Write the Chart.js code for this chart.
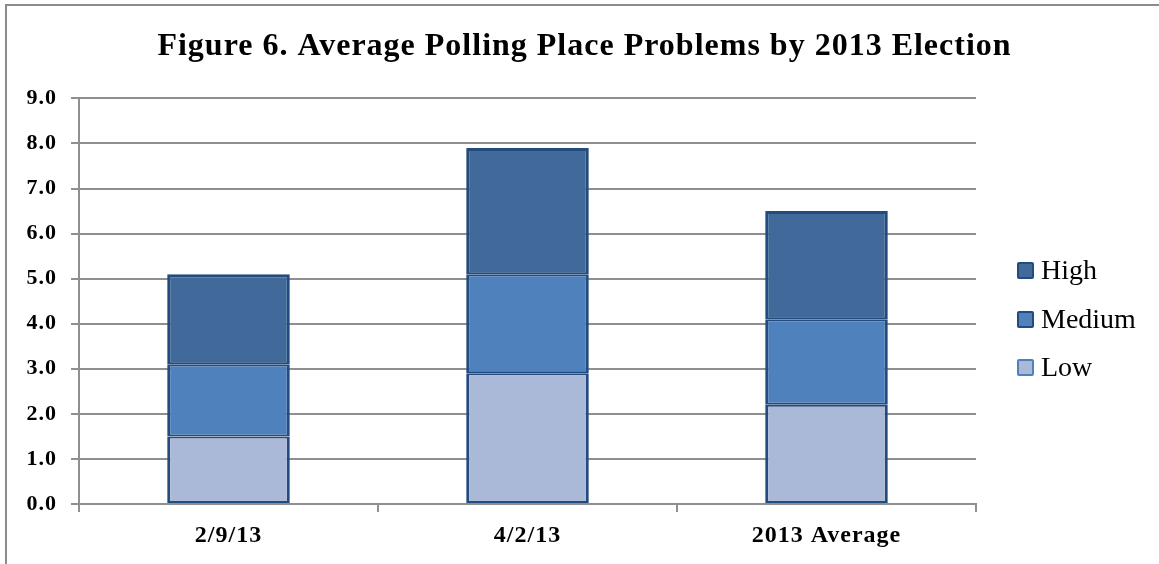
<!DOCTYPE html>
<html>
<head>
<meta charset="utf-8">
<script src="https://cdn.jsdelivr.net/npm/chart.js@4"></script>
<style>
  html, body { margin: 0; padding: 0; background: #fff; }
  #wrap { position: relative; width: 1159px; height: 564px; overflow: hidden; }
  #frame {
    position: absolute; left: 5px; top: 4px; right: -20px; bottom: -20px;
    border: 2px solid #8c8c8c;
  }
  canvas { position: absolute; left: 0; top: 0; }
  #legend { position: absolute; left: 1017px; top: 0; }
  .item {
    position: absolute; left: 0; height: 28px; white-space: nowrap;
    display: flex; align-items: center;
    font-family: 'Times New Roman', 'Liberation Serif', serif;
    font-size: 28px; line-height: 28px; color: #000;
  }
  .swatch {
    width: 13px; height: 13px; border: 2px solid; border-radius: 2px;
    margin-right: 7px;
  }
</style>
</head>
<body>
<div id="wrap">
  <div id="frame"></div>
  <canvas id="chart" width="1159" height="564"></canvas>
  <div id="legend"></div>
</div>
<script>
// Polling place problems per election, stacked by severity
const elections = ['2/9/13', '4/2/13', '2013 Average'];
const lowValues = [1.5, 2.9, 2.2];
const mediumValues = [1.6, 2.2, 1.9];
const highValues = [2.0, 2.8, 2.4];
const yTicks = [0, 1, 2, 3, 4, 5, 6, 7, 8, 9];

const serif = "'Times New Roman', 'Liberation Serif', serif";
const gridGray = '#8f8f8f';
const edgeBlue = '#234b7e';

// thin joins between stacked segments, heavier outer edges
const segmentBorder = { top: 2, bottom: 2, left: 3, right: 3 };

const datasets = [
  { label: 'Low', data: lowValues, backgroundColor: '#aab9d7', legendEdge: '#4f81bd' },
  { label: 'Medium', data: mediumValues, backgroundColor: '#4f81bd', legendEdge: edgeBlue },
  { label: 'High', data: highValues, backgroundColor: '#416a9b', legendEdge: edgeBlue }
].map(ds => Object.assign(ds, {
  borderColor: edgeBlue,
  borderWidth: ds.label === 'High' ? Object.assign({}, segmentBorder, { top: 3 }) : segmentBorder,
  borderSkipped: false,
  categoryPercentage: 1,
  barPercentage: 0.41
}));

// canvas text is set a little wider, like the printed figure.
// resizing the canvas resets context state, so apply before layout and drawing
const wideText = {
  id: 'wideText',
  beforeUpdate(chart) { chart.ctx.letterSpacing = '1px'; },
  beforeDraw(chart) { chart.ctx.letterSpacing = '1px'; }
};

const ctx = document.getElementById('chart').getContext('2d');

new Chart(ctx, {
  type: 'bar',
  data: { labels: elections, datasets: datasets },
  plugins: [wideText],
  options: {
    responsive: false,
    animation: false,
    layout: { padding: { left: 10, right: 0, top: 0, bottom: 0 } },
    plugins: {
      title: {
        display: true,
        text: 'Figure 6. Average Polling Place Problems by 2013 Election',
        color: '#000',
        font: { family: serif, size: 32, weight: 'bold' },
        padding: { top: 28, bottom: 32 }
      },
      legend: { display: false },
      tooltip: { enabled: false }
    },
    scales: {
      x: {
        stacked: true,
        afterFit: function(scale) { scale.height = 60; },
        grid: {
          display: true,
          offset: true,
          drawOnChartArea: false,
          drawTicks: true,
          tickLength: 8,
          color: gridGray,
          lineWidth: 2
        },
        border: { display: true, color: gridGray, width: 2 },
        ticks: {
          color: '#000',
          padding: 9,
          font: { family: serif, size: 24, weight: 'bold' }
        }
      },
      y: {
        stacked: true,
        min: 0,
        max: 9,
        afterFit: function(scale) { scale.width = 69; },
        afterBuildTicks: function(scale) {
          scale.ticks = yTicks.map(v => ({ value: v }));
        },
        grid: {
          color: gridGray,
          lineWidth: 2,
          drawTicks: true,
          tickLength: 8
        },
        border: { display: true, color: gridGray, width: 2 },
        ticks: {
          color: '#000',
          padding: 14,
          font: { family: serif, size: 22, weight: 'bold' },
          callback: function(value) { return value.toFixed(1); }
        }
      },
      // empty right-hand axis keeps room for the legend column
      legendSpace: {
        type: 'linear',
        position: 'right',
        afterFit: function(scale) { scale.width = 183; },
        grid: { display: false },
        border: { display: false },
        ticks: { display: false }
      }
    }
  }
});

// legend column, top to bottom High / Medium / Low
const legendEl = document.getElementById('legend');
const legendRows = [270, 319, 367];
datasets.slice().reverse().forEach((ds, i) => {
  const item = document.createElement('div');
  item.className = 'item';
  item.style.top = (legendRows[i] - 14) + 'px';
  const swatch = document.createElement('span');
  swatch.className = 'swatch';
  swatch.style.background = ds.backgroundColor;
  swatch.style.borderColor = ds.legendEdge;
  item.appendChild(swatch);
  item.appendChild(document.createTextNode(ds.label));
  legendEl.appendChild(item);
});
</script>
</body>
</html>
